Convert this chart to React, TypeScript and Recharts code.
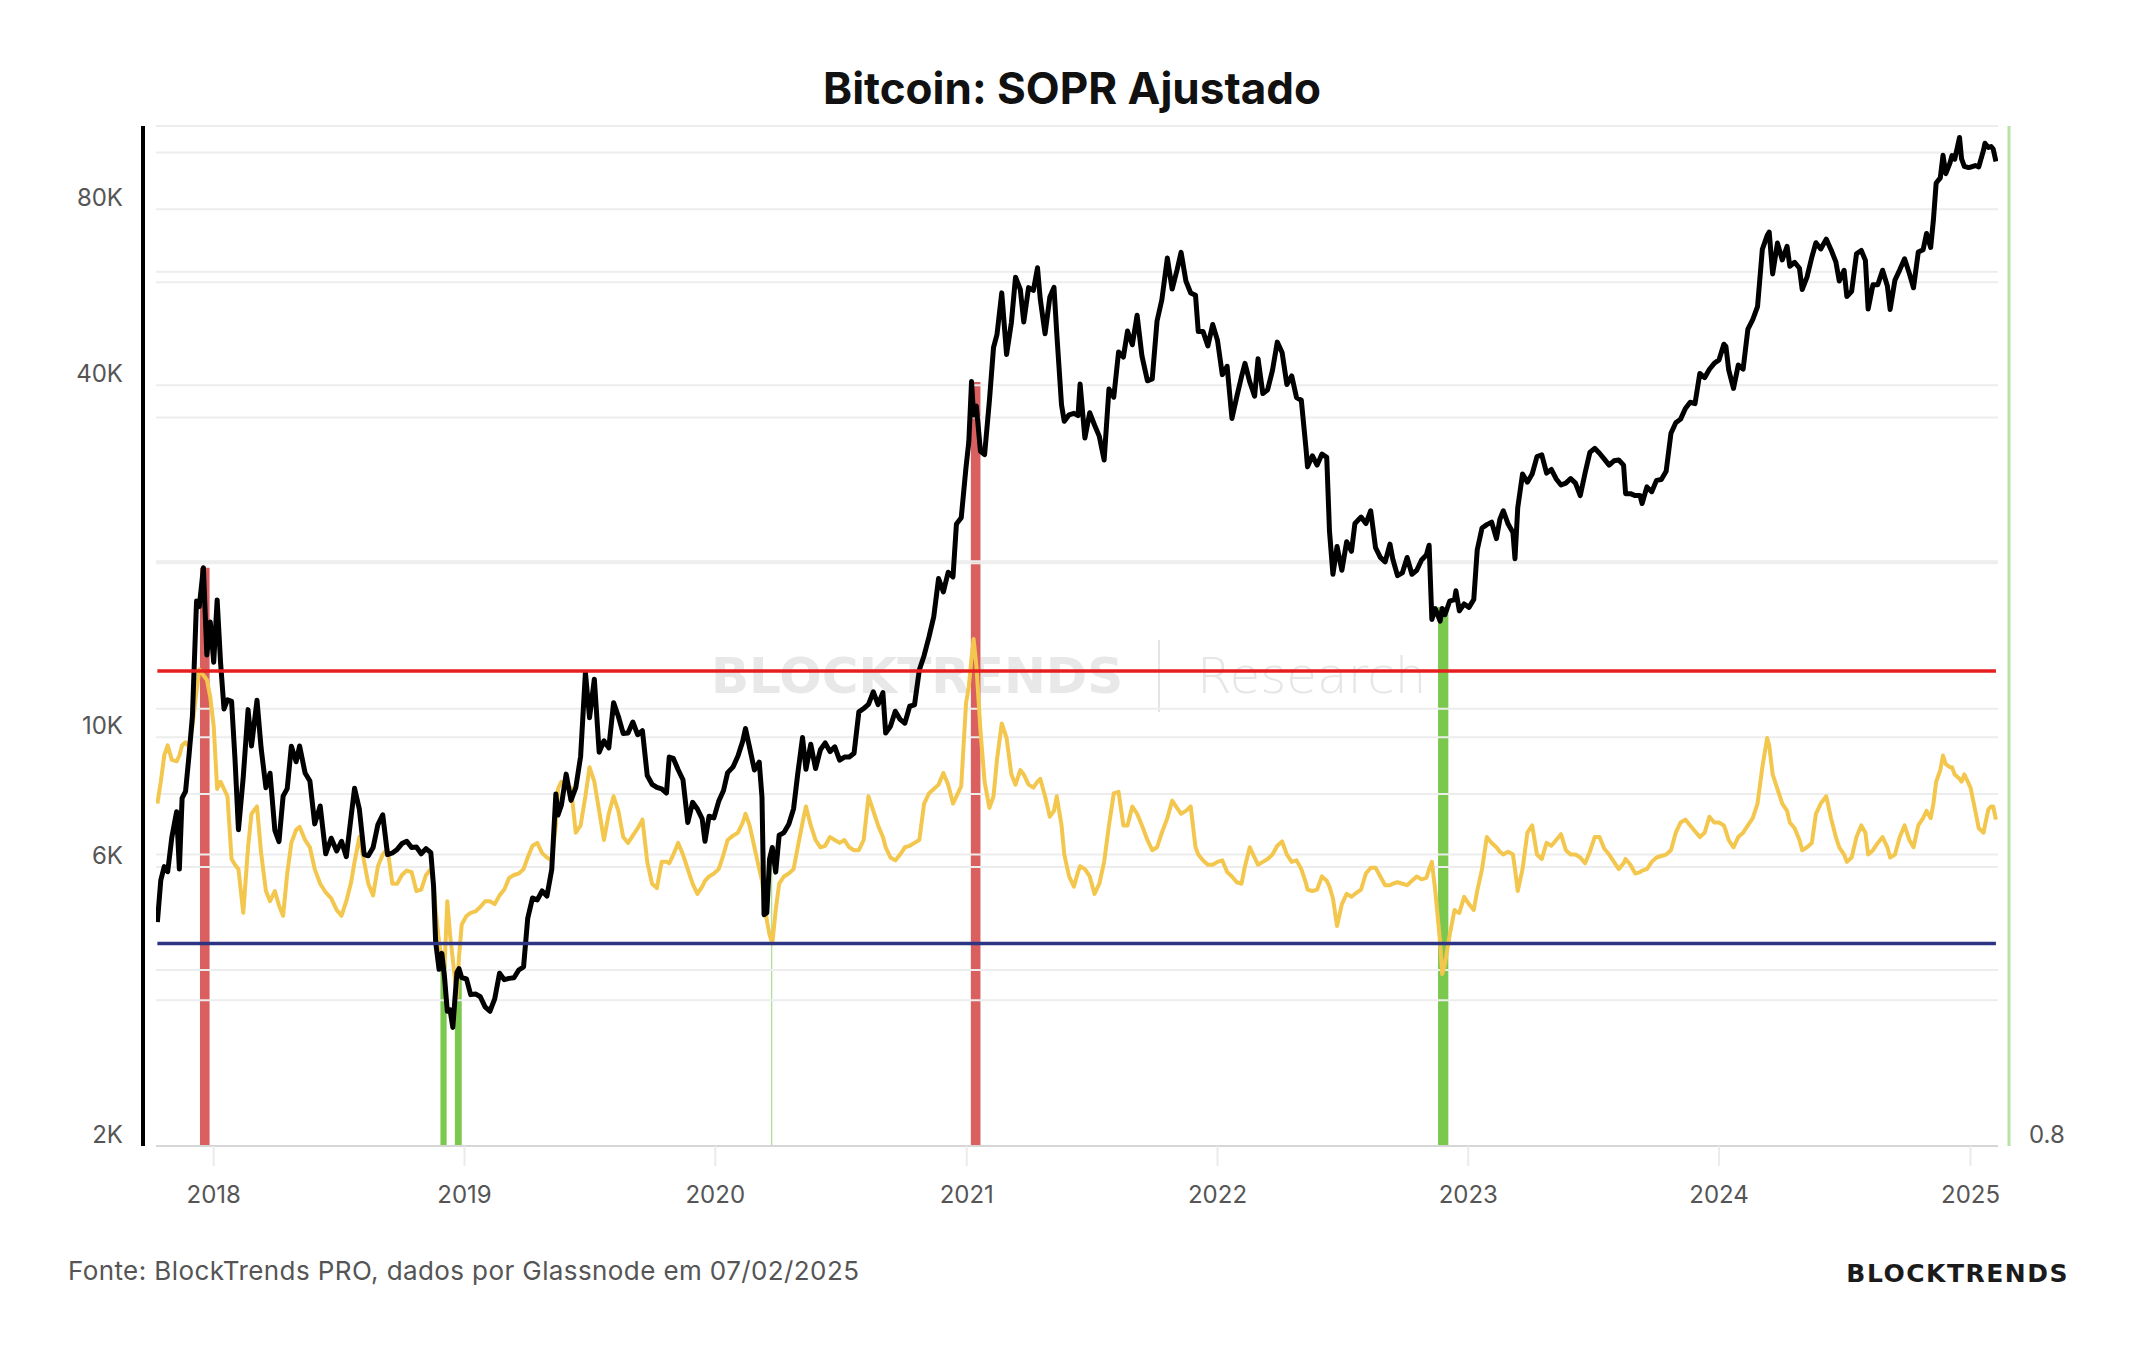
import React from "react";
import {
  ComposedChart,
  Line,
  XAxis,
  YAxis,
  ReferenceLine,
  ReferenceArea,
} from "recharts";

// dates are MM-DD within each year; price in USD, aSOPR on the right axis
const D2017 = ["10-11", "10-16", "10-21", "10-26", "11-01", "11-08", "11-12", "11-16", "11-21", "11-26", "12-01", "12-07", "12-11", "12-17", "12-22", "12-27"];
const P2017 = [4830, 5700, 6010, 5890, 6740, 7460, 5950, 7870, 8080, 9300, 10860, 17100, 16730, 19500, 13830, 15750];
const S2017 = [1.035, 1.05, 1.068, 1.075, 1.065, 1.064, 1.068, 1.075, 1.077, 1.074, 1.088, 1.112, 1.127, 1.123, 1.12, 1.108];

const D2018 = [
  "01-01", "01-06", "01-11", "01-16", "01-21", "01-27",
  "02-01", "02-06", "02-13", "02-20", "02-25",
  "03-05", "03-11", "03-18", "03-24", "03-31",
  "04-06", "04-12", "04-18", "04-24",
  "05-01", "05-06", "05-14", "05-21", "05-28",
  "06-05", "06-13", "06-21", "06-29",
  "07-06", "07-13", "07-20", "07-25",
  "08-01", "08-08", "08-14", "08-21", "08-28",
  "09-04", "09-11", "09-18", "09-25",
  "10-02", "10-09", "10-16", "10-23", "10-30",
  "11-06", "11-13", "11-17", "11-20", "11-25", "11-29",
  "12-03", "12-07", "12-11", "12-15", "12-21", "12-24", "12-28",
];
const P2018 = [
  13440, 17170, 13400, 11180, 11590, 11520,
  9170, 6950, 8550, 11150, 9660,
  11570, 9580, 8200, 8680, 6930,
  6630, 7930, 8170, 9650,
  9080, 9660, 8690, 8420, 7110,
  7630, 6320, 6720, 6390,
  6640, 6250, 7320, 8180,
  7530, 6300, 6270, 6480, 7090,
  7370, 6300, 6340, 6430,
  6580, 6640, 6480, 6490, 6320,
  6450, 6350, 5560, 4470, 4010, 4270,
  3880, 3400, 3420, 3190, 3960, 4020, 3880,
];
const S2018 = [
  1.088, 1.045, 1.05, 1.045, 1.04, 0.997,
  0.993, 0.99, 0.96, 1.005, 1.028,
  1.033, 1.001, 0.975, 0.968, 0.975,
  0.965, 0.958, 0.987, 1.008,
  1.017, 1.019, 1.01, 1.005, 0.99,
  0.98, 0.974, 0.97, 0.962,
  0.958, 0.968, 0.981, 0.995,
  1.012, 0.995, 0.98, 0.972, 0.992,
  1.0, 1.004, 0.98, 0.98,
  0.986, 0.989, 0.988, 0.975, 0.976,
  0.986, 0.99, 0.98, 0.962, 0.94, 0.928,
  0.923, 0.968, 0.945, 0.928, 0.902, 0.93, 0.952,
];

const D2019 = [
  "01-04", "01-10", "01-17", "01-24", "01-31",
  "02-07", "02-14", "02-21", "02-28",
  "03-07", "03-14", "03-21", "03-28",
  "04-03", "04-10", "04-17", "04-24",
  "05-01", "05-08", "05-14", "05-17", "05-22", "05-29",
  "06-05", "06-12", "06-19", "06-26",
  "07-02", "07-09", "07-16", "07-23", "07-30",
  "08-06", "08-13", "08-20", "08-27",
  "09-03", "09-10", "09-17", "09-24",
  "10-01", "10-08", "10-15", "10-22", "10-26",
  "11-01", "11-08", "11-15", "11-22", "11-29",
  "12-06", "12-13", "12-17", "12-23", "12-30",
];
const P2019 = [
  3860, 3630, 3640, 3600, 3460,
  3400, 3570, 3950, 3850,
  3870, 3880, 4000, 4050,
  4900, 5310, 5270, 5460,
  5350, 5940, 8000, 7360, 7650, 8650,
  7800, 8200, 9270, 12900,
  10800, 12570, 9430, 9860, 9590,
  11460, 10850, 10150, 10170,
  10620, 10100, 10260, 8600,
  8310, 8210, 8160, 8030, 9250,
  9200, 8800, 8460, 7150, 7740,
  7540, 7250, 6640, 7330, 7280,
];
const S2019 = [
  0.958, 0.96, 0.961, 0.964, 0.968,
  0.968, 0.966, 0.972, 0.976,
  0.984, 0.986, 0.987, 0.99,
  0.998, 1.006, 1.008, 1.001,
  0.998, 0.996, 1.02, 1.045, 1.05, 1.047,
  1.046, 1.015, 1.02, 1.04,
  1.06, 1.05, 1.03, 1.01, 1.028,
  1.04, 1.03, 1.012, 1.008,
  1.013, 1.018, 1.024, 0.995,
  0.98, 0.977, 0.995, 0.995, 0.994,
  1.0, 1.008, 1.0, 0.99, 0.98,
  0.973, 0.978, 0.982, 0.985, 0.987,
];

const D2020 = [
  "01-06", "01-13", "01-19", "01-27",
  "02-03", "02-10", "02-14", "02-20", "02-27",
  "03-05", "03-09", "03-12", "03-16", "03-20", "03-24", "03-29",
  "04-03", "04-10", "04-17", "04-24", "04-30",
  "05-07", "05-12", "05-19", "05-26",
  "06-02", "06-09", "06-16", "06-23", "06-30",
  "07-07", "07-14", "07-21", "07-28",
  "08-04", "08-11", "08-18", "08-25",
  "09-01", "09-05", "09-12", "09-19", "09-26",
  "10-03", "10-10", "10-17", "10-24", "10-31",
  "11-07", "11-14", "11-21", "11-28",
  "12-05", "12-12", "12-17", "12-24", "12-31",
];
const P2020 = [
  7770, 8110, 8700, 8900,
  9290, 9850, 10350, 9600, 8790,
  9070, 7900, 4970, 5010, 6190, 6480, 5880,
  6800, 6870, 7100, 7550, 8650,
  9990, 8820, 9730, 8840,
  9520, 9780, 9450, 9630, 9140,
  9250, 9250, 9390, 11050,
  11200, 11380, 11960, 11370,
  11920, 10170, 10440, 11080, 10730,
  10570, 11300, 11360, 13030, 13800,
  14830, 16070, 18680, 17730,
  19150, 18800, 23150, 23730, 28990,
];
const S2020 = [
  0.99, 1.0, 1.01, 1.013,
  1.015, 1.022, 1.028, 1.02, 1.005,
  0.99, 0.982, 0.97, 0.955, 0.945, 0.939, 0.962,
  0.98, 0.985, 0.987, 0.99, 1.005,
  1.022, 1.033, 1.02, 1.01,
  1.005, 1.006, 1.012, 1.01, 1.008,
  1.01, 1.005, 1.003, 1.003,
  1.01, 1.04, 1.03, 1.02,
  1.012, 1.005, 0.998, 0.996, 1.0,
  1.005, 1.006, 1.008, 1.01, 1.035,
  1.042, 1.045, 1.048, 1.056,
  1.048, 1.035, 1.04, 1.047, 1.104,
];

const D2021 = [
  "01-04", "01-08", "01-11", "01-15", "01-21", "01-27",
  "02-03", "02-09", "02-14", "02-21", "02-28",
  "03-07", "03-13", "03-20", "03-25",
  "04-01", "04-08", "04-14", "04-18", "04-25",
  "05-02", "05-08", "05-12", "05-19", "05-23", "05-30",
  "06-06", "06-12", "06-15", "06-22", "06-29",
  "07-06", "07-13", "07-20", "07-27",
  "08-03", "08-10", "08-17", "08-23", "08-30",
  "09-06", "09-13", "09-21", "09-28",
  "10-05", "10-12", "10-20", "10-27",
  "11-03", "11-09", "11-16", "11-23", "11-30",
  "12-04", "12-11", "12-18", "12-25",
];
const P2021 = [
  31970, 40580, 35570, 36830, 30830, 30430,
  37620, 46400, 48800, 57540, 45140,
  51200, 61200, 58300, 51300,
  58740, 58100, 63500, 56200, 49000,
  56600, 58800, 49150, 37000, 34700, 35600,
  35800, 35500, 40200, 32500, 35900,
  34200, 32700, 29800, 39400,
  38150, 45600, 44700, 49500, 46900,
  52700, 44900, 40700, 41000,
  51500, 56000, 65990, 58400,
  62900, 67500, 60300, 57500, 57000,
  49400, 49400, 46700, 50800,
];
const S2021 = [
  1.115, 1.135, 1.148, 1.13, 1.085, 1.05,
  1.032, 1.04, 1.065, 1.09, 1.08,
  1.055, 1.048, 1.058, 1.055,
  1.048, 1.046, 1.05, 1.052, 1.04,
  1.026, 1.03, 1.04, 1.02, 1.0, 0.985,
  0.978, 0.988, 0.992, 0.99, 0.985,
  0.973, 0.98, 0.995, 1.02,
  1.042, 1.043, 1.02, 1.02, 1.033,
  1.028, 1.02, 1.01, 1.003,
  1.005, 1.015, 1.025, 1.037,
  1.032, 1.028, 1.03, 1.033, 1.005,
  1.0, 0.996, 0.993, 0.993,
];

const D2022 = [
  "01-01", "01-08", "01-15", "01-22", "01-29",
  "02-05", "02-10", "02-17", "02-24",
  "03-01", "03-08", "03-15", "03-22", "03-29",
  "04-05", "04-12", "04-19", "04-26",
  "05-03", "05-10", "05-12", "05-19", "05-26",
  "06-02", "06-09", "06-13", "06-18", "06-24",
  "07-01", "07-08", "07-15", "07-20", "07-29",
  "08-05", "08-12", "08-19", "08-26",
  "09-02", "09-09", "09-13", "09-20", "09-27",
  "10-04", "10-11", "10-18", "10-25",
  "11-01", "11-05", "11-09", "11-14", "11-21", "11-24", "11-28",
  "12-05", "12-12", "12-14", "12-19", "12-26",
];
const P2022 = [
  47700, 41700, 43100, 35100, 38200,
  41400, 43600, 40500, 38300,
  44400, 38700, 39300, 42400, 47400,
  45500, 40100, 41500, 38100,
  37700, 31000, 29000, 30300, 29200,
  30500, 30100, 22500, 19000, 21200,
  19300, 21600, 20800, 23200, 23800,
  23200, 24400, 21100, 20300,
  19950, 21400, 20200, 18900, 19100,
  20300, 19000, 19300, 20100,
  20500, 21300, 15900, 16600, 15800, 16600, 16200,
  17100, 17200, 17800, 16450, 16900,
];
const S2022 = [
  0.995, 0.996, 0.988, 0.985, 0.981,
  0.98, 0.992, 1.005, 0.998,
  0.993, 0.995, 0.997, 1.0, 1.006,
  1.009, 1.0, 0.995, 0.996,
  0.99, 0.98, 0.976, 0.975, 0.976,
  0.985, 0.982, 0.978, 0.97, 0.951,
  0.966, 0.973, 0.971, 0.973, 0.976,
  0.987, 0.991, 0.991, 0.985,
  0.979, 0.979, 0.98, 0.981, 0.98,
  0.979, 0.982, 0.985, 0.983,
  0.984, 0.99, 0.995, 0.975, 0.94, 0.918, 0.925,
  0.945, 0.962, 0.961, 0.96, 0.971,
];

const D2023 = [
  "01-02", "01-09", "01-14", "01-21", "01-28",
  "02-04", "02-11", "02-16", "02-21", "02-28",
  "03-07", "03-10", "03-14", "03-21", "03-28",
  "04-04", "04-11", "04-18", "04-25",
  "05-02", "05-09", "05-16", "05-23", "05-30",
  "06-06", "06-13", "06-20", "06-27",
  "07-04", "07-11", "07-18", "07-25",
  "08-01", "08-08", "08-15", "08-18", "08-25",
  "09-01", "09-08", "09-11", "09-18", "09-25",
  "10-02", "10-09", "10-16", "10-23", "10-30",
  "11-06", "11-13", "11-20", "11-27",
  "12-04", "12-11", "12-18", "12-25",
];
const P2023 = [
  16680, 17200, 20900, 22800, 23100,
  23330, 21860, 23600, 24400, 23150,
  22400, 20200, 24700, 28200, 27300,
  28200, 30200, 30400, 28300,
  28700, 27650, 27000, 27200, 27700,
  27200, 25900, 28300, 30700,
  31200, 30600, 29900, 29200,
  29700, 29800, 29200, 26100, 26100,
  25900, 25900, 25100, 26800, 26300,
  27500, 27600, 28500, 33100, 34500,
  35000, 36500, 37400, 37200,
  41900, 41200, 42600, 43600,
];
const S2023 = [
  0.966, 0.962, 0.975, 0.99, 1.012,
  1.008, 1.005, 1.002, 1.0, 1.002,
  1.0, 0.99, 0.975, 0.99, 1.015,
  1.02, 1.0, 0.997, 1.008,
  1.006, 1.01, 1.014, 1.003, 1.0,
  1.0, 0.998, 0.994, 1.002,
  1.012, 1.012, 1.004, 1.0,
  0.995, 0.99, 0.994, 0.997, 0.993,
  0.987, 0.988, 0.989, 0.99, 0.995,
  0.998, 0.999, 1.0, 1.003, 1.015,
  1.022, 1.024, 1.02, 1.016,
  1.012, 1.015, 1.026, 1.022,
];

const D2024 = [
  "01-01", "01-08", "01-11", "01-15", "01-22", "01-29",
  "02-05", "02-12", "02-19", "02-26",
  "03-04", "03-11", "03-14", "03-19", "03-26",
  "04-02", "04-09", "04-13", "04-20", "04-27",
  "05-01", "05-08", "05-15", "05-21", "05-28",
  "06-05", "06-12", "06-19", "06-24",
  "07-01", "07-05", "07-12", "07-19", "07-26",
  "08-01", "08-05", "08-12", "08-19", "08-26",
  "09-02", "09-06", "09-13", "09-20", "09-27",
  "10-04", "10-10", "10-17", "10-24", "10-29",
  "11-04", "11-08", "11-12", "11-18", "11-22", "11-26",
  "12-02", "12-05", "12-09", "12-16", "12-19", "12-23", "12-28",
];
const P2024 = [
  44200, 47000, 46600, 42500, 39500, 43300,
  42600, 49900, 51800, 54500,
  68300, 72100, 73100, 62000, 70000,
  65500, 69100, 63900, 64900, 63400,
  58300, 61200, 66200, 70100, 68400,
  71100, 68200, 65000, 60300,
  62900, 56700, 57900, 67100, 68000,
  65400, 54000, 59400, 59400, 62900,
  59100, 53900, 60500, 63000, 65800,
  62100, 58700, 67600, 68200, 72700,
  68800, 76700, 88700, 90500, 98900, 92000,
  95900, 98800, 97400, 106100, 97500, 94700, 94300,
];
const S2024 = [
  1.022, 1.02, 1.016, 1.01, 1.005, 1.012,
  1.015, 1.02, 1.025, 1.035,
  1.06, 1.08, 1.075, 1.055, 1.045,
  1.035, 1.03, 1.022, 1.018, 1.01,
  1.003, 1.005, 1.008, 1.028, 1.035,
  1.04, 1.025, 1.012, 1.005,
  1.0, 0.995, 0.998, 1.012, 1.02,
  1.015, 1.0, 1.003, 1.008, 1.012,
  1.005, 0.998, 1.0, 1.012, 1.02,
  1.01, 1.005, 1.02, 1.025, 1.03,
  1.025, 1.035, 1.05, 1.058, 1.068, 1.062,
  1.06, 1.06, 1.055, 1.052, 1.05, 1.055, 1.05,
];

const D2025 = ["01-01", "01-08", "01-13", "01-20", "01-22", "01-27", "01-31", "02-03", "02-07"];
const P2025 = [94400, 95000, 94500, 101000, 103700, 102000, 102400, 101400, 96500];
const S2025 = [1.046, 1.03, 1.018, 1.015, 1.02, 1.031, 1.033, 1.033, 1.024];

// signal periods: SOPR above the upper band (red) or below the lower band (green)
const RED_SIGNALS = [
  { from: "2017-12-12", to: "2017-12-26", top: 19500 },
  { from: "2021-01-07", to: "2021-01-21", top: 40500 },
];
const GREEN_SIGNALS = [
  { from: "2018-11-27", to: "2018-12-06", top: 4100 },
  { from: "2018-12-18", to: "2018-12-28", top: 4000 },
  { from: "2022-11-18", to: "2022-12-03", top: 16700 },
];
const THIN_SIGNALS = [{ from: "2020-03-22", to: "2020-03-24", top: 6100 }];

const UPPER_BAND = 1.126;
const LOWER_BAND = 0.939;

const PRICE_TICKS = [2000, 6000, 10000, 40000, 80000];
const PRICE_TICK_LABELS = ["2K", "6K", "10K", "40K", "80K"];
const PRICE_GRID = [100000, 80000, 60000, 40000, 20000, 10000, 8000, 6000, 4000];
const SOPR_GRID = [0.9, 1.0, 1.1, 1.2, 1.3, 1.4, 1.5];
const YEAR_TICKS = [2018, 2019, 2020, 2021, 2022, 2023, 2024, 2025];

const ts = (d: string) => Date.UTC(+d.slice(0, 4), +d.slice(5, 7) - 1, +d.slice(8, 10));

const YEARS: [number, string[], number[], number[]][] = [
  [2017, D2017, P2017, S2017],
  [2018, D2018, P2018, S2018],
  [2019, D2019, P2019, S2019],
  [2020, D2020, P2020, S2020],
  [2021, D2021, P2021, S2021],
  [2022, D2022, P2022, S2022],
  [2023, D2023, P2023, S2023],
  [2024, D2024, P2024, S2024],
  [2025, D2025, P2025, S2025],
];

const rows = YEARS.flatMap(([y, dates, price, sopr]) =>
  dates.map((md, i) => ({
    t: ts(`${y}-${md}`),
    price: price[i],
    sopr: sopr[i],
  }))
);

const FIRST_T = rows[0].t;
const LAST_T = rows[rows.length - 1].t;
const X_MIN = ts("2017-10-09");
const X_MAX = ts("2025-02-10");

const TICK_FONT = "Inter, 'Noto Sans', sans-serif";

function PriceTick({ x, y, payload }: any) {
  const i = PRICE_TICKS.indexOf(payload.value);
  return (
    <text x={x} y={y - 12} dy="0.36em" textAnchor="end" fill="#555" fontSize={24} fontFamily={TICK_FONT}>
      {PRICE_TICK_LABELS[i]}
    </text>
  );
}

function SoprTick({ x, y, payload }: any) {
  return (
    <text x={x} y={y - 12} dy="0.36em" textAnchor="start" fill="#555" fontSize={24} fontFamily={TICK_FONT}>
      {payload.value.toFixed(1)}
    </text>
  );
}

function Backdrop() {
  return (
    <svg width={2144} height={1350} style={{ position: "absolute", left: 0, top: 0 }}>
      <text x={1072} y={104} textAnchor="middle" fontSize={44} fontWeight={700} fontFamily="Inter, sans-serif" fill="#111">
        Bitcoin: SOPR Ajustado
      </text>
      <text x={711} y={693} fontSize={50} fontWeight={700} fontFamily="'DejaVu Sans', sans-serif" fill="#e8e8e8">
        BLOCKTRENDS
      </text>
      <line x1={1159} x2={1159} y1={640} y2={712} stroke="#e4e4e4" strokeWidth={2} />
      <text x={1197} y={693} fontSize={50} fontWeight={300} fontFamily="'DejaVu Sans', sans-serif" fill="#e6e6e6">
        Research
      </text>
      <text x={68} y={1280} fontSize={26} letterSpacing={0.4} fontFamily="Inter, sans-serif" fill="#555">
        Fonte: BlockTrends PRO, dados por Glassnode em 07/02/2025
      </text>
      <text x={2069} y={1282} textAnchor="end" fontSize={25} fontWeight={700} letterSpacing={1.5} fontFamily="'DejaVu Sans', sans-serif" fill="#1b1b1b">
        BLOCKTRENDS
      </text>
    </svg>
  );
}

export default function App() {
  return (
    <div style={{ position: "absolute", left: 0, top: 0, width: 2144, height: 1350, background: "#fff" }}>
      <Backdrop />
      <div style={{ position: "absolute", left: 0, top: 0 }}>
        <ComposedChart width={2144} height={1350} data={rows} margin={{ top: 126, right: 86, bottom: 144, left: 56 }}>
          <XAxis
            dataKey="t"
            type="number"
            domain={[X_MIN, X_MAX]}
            allowDataOverflow
            ticks={YEAR_TICKS.map((y) => Date.UTC(y, 0, 1))}
            tickFormatter={(v) => String(new Date(v).getUTCFullYear())}
            interval={0}
            height={60}
            axisLine={{ stroke: "#d6d6d6", strokeWidth: 2 }}
            tickLine={{ stroke: "#ebebeb", strokeWidth: 2 }}
            tickSize={20}
            tickMargin={20}
            tick={{ fill: "#555", fontSize: 24, fontFamily: TICK_FONT }}
          />
          <YAxis
            yAxisId="price"
            scale="log"
            domain={[2000, 111000]}
            allowDataOverflow
            ticks={PRICE_TICKS}
            interval={0}
            width={100}
            tickSize={0}
            tickMargin={33}
            tickLine={false}
            axisLine={{ stroke: "#000", strokeWidth: 4, transform: "translate(-13 0)" } as any}
            tick={<PriceTick />}
          />
          <YAxis
            yAxisId="sopr"
            orientation="right"
            domain={[0.8, 1.5]}
            allowDataOverflow
            ticks={[0.8]}
            interval={0}
            width={60}
            tickSize={0}
            tickMargin={31}
            tickLine={false}
            axisLine={{ stroke: "#b9e3a5", strokeWidth: 3, transform: "translate(11 0)" } as any}
            tick={<SoprTick />}
          />

          {PRICE_GRID.map((v) => (
            <ReferenceLine key={`pg${v}`} yAxisId="price" y={v} stroke="#ededed" strokeWidth={2} />
          ))}
          {SOPR_GRID.map((v) => (
            <ReferenceLine key={`sg${v}`} yAxisId="sopr" y={v} stroke="#ededed" strokeWidth={2} />
          ))}

          {RED_SIGNALS.map((s) => (
            <ReferenceArea key={s.from} yAxisId="price" x1={ts(s.from)} x2={ts(s.to)} y1={2000} y2={s.top} fill="#d9605f" fillOpacity={1} stroke="none" />
          ))}
          {GREEN_SIGNALS.map((s) => (
            <ReferenceArea key={s.from} yAxisId="price" x1={ts(s.from)} x2={ts(s.to)} y1={2000} y2={s.top} fill="#7bc84e" fillOpacity={1} stroke="none" />
          ))}
          {THIN_SIGNALS.map((s) => (
            <ReferenceArea key={s.from} yAxisId="price" x1={ts(s.from)} x2={ts(s.to)} y1={2000} y2={s.top} fill="#b0df98" fillOpacity={1} stroke="none" />
          ))}

          <Line
            yAxisId="sopr"
            dataKey="sopr"
            type="linear"
            stroke="#f3c64e"
            strokeWidth={4}
            strokeLinejoin="round"
            dot={false}
            activeDot={false}
            isAnimationActive={false}
          />
          <Line
            yAxisId="price"
            dataKey="price"
            type="linear"
            stroke="#000"
            strokeWidth={5}
            strokeLinejoin="round"
            dot={false}
            activeDot={false}
            isAnimationActive={false}
          />

          <ReferenceLine
            yAxisId="sopr"
            segment={[{ x: FIRST_T, y: UPPER_BAND }, { x: LAST_T, y: UPPER_BAND }]}
            stroke="#e61e1e"
            strokeWidth={3.5}
          />
          <ReferenceLine
            yAxisId="sopr"
            segment={[{ x: FIRST_T, y: LOWER_BAND }, { x: LAST_T, y: LOWER_BAND }]}
            stroke="#2c3483"
            strokeWidth={3.5}
          />
        </ComposedChart>
      </div>
    </div>
  );
}
